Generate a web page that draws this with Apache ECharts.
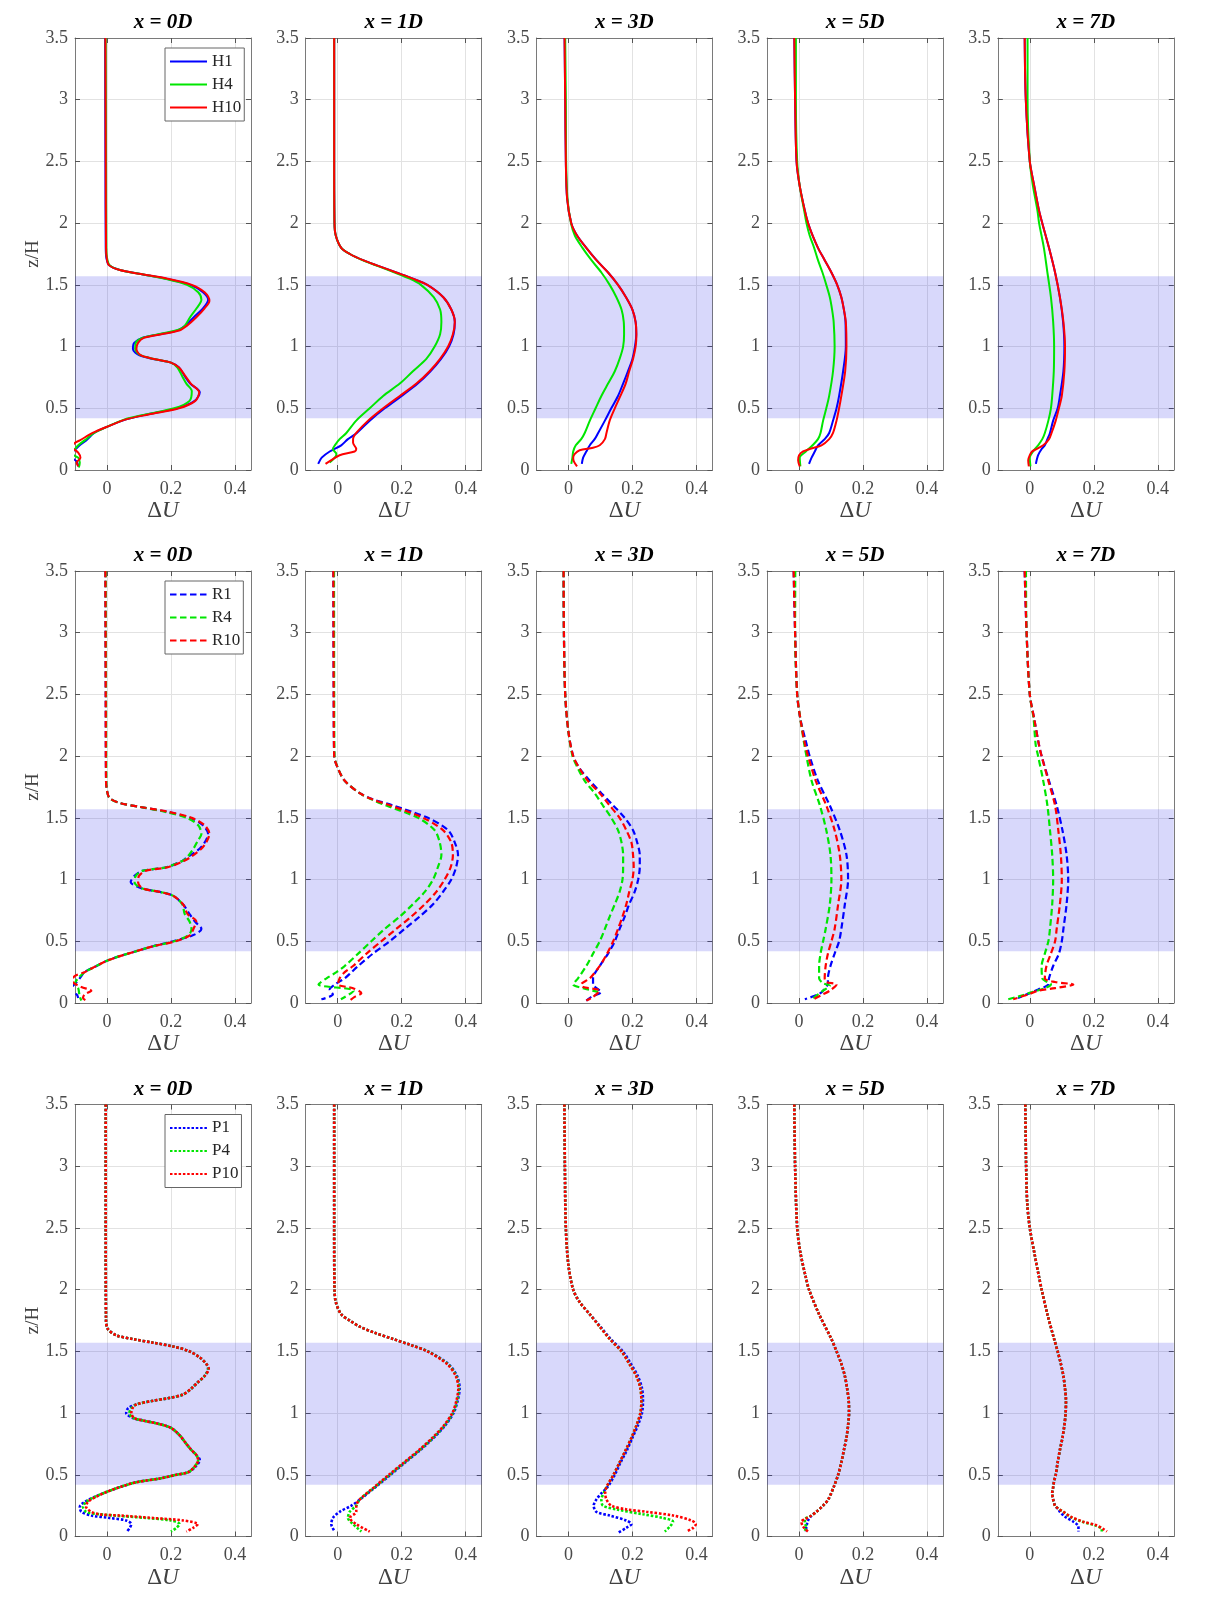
<!DOCTYPE html>
<html>
<head>
<meta charset="utf-8">
<script src="https://cdn.jsdelivr.net/npm/echarts@6/dist/echarts.min.js"></script>
<style>
html, body { margin: 0; padding: 0; background: #fff; }
#profiles { width: 1205px; height: 1603px; }
</style>
</head>
<body>
<div id="profiles"></div>
<script>
// station labels and axis ticks
const STATIONS = ['x = 0D', 'x = 1D', 'x = 3D', 'x = 5D', 'x = 7D'];
const X_TICKS = [0, 0.2, 0.4];
const Z_RANGE = [0, 3.5];
const DU_RANGE = [-0.1, 0.45];
const BAND = [0.42, 1.57];
const H_NAMES = ['H1', 'H4', 'H10'];
const R_NAMES = ['R1', 'R4', 'R10'];
const P_NAMES = ['P1', 'P4', 'P10'];

// ---- row 1 : H cases, points are [dU, z/H] from top to bottom
const H1_0D = [[-0.006,3.5],[-0.005,2.5],[-0.004,1.8],[-0.002,1.72],[0.006,1.66],[0.04,1.62],[0.1,1.59],[0.185,1.55],[0.26,1.5],[0.3,1.44],[0.316,1.38],[0.3,1.31],[0.272,1.24],[0.245,1.17],[0.22,1.13],[0.165,1.1],[0.11,1.07],[0.085,1.03],[0.081,0.98],[0.1,0.93],[0.144,0.9],[0.2,0.87],[0.225,0.83],[0.243,0.76],[0.26,0.7],[0.29,0.63],[0.274,0.56],[0.22,0.5],[0.125,0.45],[0.06,0.41],[0.0,0.35],[-0.04,0.3],[-0.065,0.24],[-0.085,0.2],[-0.1,0.165],[-0.12,0.12],[-0.095,0.07],[-0.09,0.03]];
const H4_0D = [[-0.004,3.5],[-0.003,2.5],[-0.002,1.8],[0.0,1.72],[0.008,1.66],[0.04,1.62],[0.1,1.59],[0.18,1.55],[0.25,1.5],[0.285,1.44],[0.295,1.38],[0.28,1.31],[0.26,1.24],[0.24,1.16],[0.215,1.13],[0.16,1.1],[0.11,1.07],[0.09,1.03],[0.088,0.98],[0.105,0.93],[0.147,0.9],[0.2,0.87],[0.22,0.83],[0.235,0.76],[0.248,0.7],[0.265,0.64],[0.258,0.56],[0.21,0.5],[0.12,0.45],[0.055,0.41],[0.0,0.35],[-0.04,0.3],[-0.07,0.24],[-0.09,0.2],[-0.1,0.17],[-0.115,0.14],[-0.09,0.1],[-0.085,0.06],[-0.088,0.02]];
const H10_0D = [[-0.005,3.5],[-0.004,2.5],[-0.003,1.8],[-0.001,1.72],[0.006,1.66],[0.04,1.62],[0.1,1.59],[0.19,1.55],[0.265,1.5],[0.305,1.44],[0.32,1.37],[0.305,1.31],[0.28,1.24],[0.25,1.17],[0.225,1.13],[0.17,1.1],[0.115,1.07],[0.097,1.03],[0.092,0.98],[0.105,0.93],[0.147,0.9],[0.2,0.87],[0.225,0.83],[0.245,0.76],[0.262,0.7],[0.288,0.63],[0.276,0.56],[0.225,0.5],[0.13,0.45],[0.06,0.41],[0.0,0.35],[-0.045,0.3],[-0.085,0.24],[-0.1,0.22],[-0.11,0.19],[-0.09,0.14],[-0.083,0.1],[-0.095,0.06],[-0.09,0.03]];

const H1_1D = [[-0.011,3.5],[-0.011,2.5],[-0.01,2.0],[-0.006,1.9],[0.011,1.8],[0.038,1.75],[0.079,1.7],[0.131,1.65],[0.183,1.6],[0.235,1.55],[0.28,1.5],[0.33,1.4],[0.355,1.3],[0.366,1.2],[0.362,1.1],[0.348,1.0],[0.323,0.9],[0.29,0.8],[0.25,0.7],[0.2,0.6],[0.147,0.5],[0.1,0.4],[0.06,0.3],[0.032,0.25],[0.011,0.2],[-0.025,0.15],[-0.05,0.1],[-0.061,0.05]];
const H4_1D = [[-0.011,3.5],[-0.011,2.5],[-0.01,2.0],[-0.006,1.9],[0.011,1.8],[0.038,1.75],[0.077,1.7],[0.128,1.65],[0.178,1.6],[0.225,1.55],[0.26,1.5],[0.3,1.4],[0.32,1.3],[0.324,1.2],[0.32,1.1],[0.303,1.0],[0.277,0.9],[0.235,0.8],[0.194,0.7],[0.142,0.6],[0.1,0.5],[0.058,0.4],[0.027,0.3],[0.006,0.25],[-0.009,0.2],[-0.015,0.17],[-0.004,0.13],[-0.009,0.1],[-0.025,0.06]];
const H10_1D = [[-0.011,3.5],[-0.011,2.5],[-0.01,2.0],[-0.006,1.9],[0.011,1.8],[0.038,1.75],[0.079,1.7],[0.131,1.65],[0.183,1.6],[0.235,1.55],[0.28,1.5],[0.33,1.4],[0.355,1.3],[0.366,1.2],[0.36,1.1],[0.345,1.0],[0.32,0.9],[0.287,0.8],[0.246,0.7],[0.194,0.6],[0.142,0.5],[0.095,0.4],[0.058,0.3],[0.048,0.25],[0.048,0.22],[0.058,0.17],[0.053,0.15],[0.006,0.12],[-0.02,0.08],[-0.038,0.05]];

const H1_3D = [[-0.012,3.5],[-0.01,3.0],[-0.008,2.5],[-0.004,2.2],[0.009,2.0],[0.027,1.9],[0.056,1.8],[0.088,1.7],[0.124,1.6],[0.155,1.5],[0.18,1.4],[0.2,1.3],[0.21,1.2],[0.212,1.1],[0.208,1.0],[0.2,0.9],[0.186,0.8],[0.171,0.7],[0.155,0.6],[0.134,0.5],[0.114,0.4],[0.093,0.3],[0.082,0.25],[0.067,0.2],[0.056,0.15],[0.046,0.1],[0.042,0.05]];
const H4_3D = [[-0.01,3.5],[-0.008,3.0],[-0.007,2.5],[-0.003,2.2],[0.008,2.0],[0.02,1.9],[0.044,1.8],[0.072,1.7],[0.103,1.6],[0.129,1.5],[0.15,1.4],[0.166,1.3],[0.173,1.2],[0.174,1.1],[0.171,1.0],[0.16,0.9],[0.145,0.8],[0.124,0.7],[0.103,0.6],[0.085,0.5],[0.067,0.4],[0.051,0.3],[0.04,0.25],[0.023,0.2],[0.015,0.15],[0.0125,0.1],[0.009,0.05]];
const H10_3D = [[-0.012,3.5],[-0.01,3.0],[-0.008,2.5],[-0.004,2.2],[0.009,2.0],[0.027,1.9],[0.056,1.8],[0.0875,1.7],[0.124,1.6],[0.155,1.5],[0.18,1.4],[0.2,1.3],[0.21,1.2],[0.2125,1.1],[0.21,1.0],[0.202,0.9],[0.19,0.8],[0.179,0.7],[0.1625,0.6],[0.145,0.5],[0.129,0.4],[0.119,0.3],[0.114,0.25],[0.098,0.2],[0.077,0.18],[0.035,0.16],[0.02,0.13],[0.015,0.1],[0.017,0.07],[0.027,0.03]];

const H1_5D = [[-0.015,3.5],[-0.0125,3.0],[-0.008,2.5],[0.002,2.3],[0.018,2.1],[0.028,2.0],[0.042,1.9],[0.059,1.8],[0.08,1.7],[0.101,1.6],[0.119,1.5],[0.132,1.4],[0.14,1.3],[0.145,1.2],[0.146,1.0],[0.1375,0.8],[0.125,0.6],[0.117,0.5],[0.106,0.4],[0.094,0.3],[0.08,0.25],[0.059,0.2],[0.049,0.15],[0.039,0.1],[0.031,0.05]];
const H4_5D = [[-0.01,3.5],[-0.01,3.0],[-0.006,2.5],[0.002,2.3],[0.016,2.1],[0.023,2.0],[0.033,1.9],[0.047,1.8],[0.059,1.7],[0.073,1.6],[0.085,1.5],[0.096,1.4],[0.103,1.3],[0.108,1.2],[0.111,1.0],[0.106,0.8],[0.094,0.6],[0.085,0.5],[0.075,0.4],[0.067,0.3],[0.059,0.25],[0.042,0.2],[0.021,0.15],[0.002,0.1],[0.004,0.03]];
const H10_5D = [[-0.015,3.5],[-0.0125,3.0],[-0.008,2.5],[0.002,2.3],[0.018,2.1],[0.028,2.0],[0.042,1.9],[0.059,1.8],[0.08,1.7],[0.101,1.6],[0.119,1.5],[0.132,1.4],[0.14,1.3],[0.146,1.2],[0.148,1.0],[0.144,0.8],[0.132,0.6],[0.125,0.5],[0.117,0.4],[0.106,0.3],[0.094,0.25],[0.07,0.2],[0.033,0.17],[0.0125,0.15],[0.0,0.12],[-0.003,0.08],[0.002,0.03]];

const H1_7D = [[-0.016,3.5],[-0.0125,3.0],[0.0,2.5],[0.014,2.3],[0.029,2.1],[0.039,2.0],[0.06,1.8],[0.079,1.6],[0.094,1.4],[0.104,1.2],[0.108,1.0],[0.105,0.8],[0.094,0.6],[0.087,0.5],[0.073,0.4],[0.063,0.3],[0.055,0.25],[0.047,0.2],[0.037,0.17],[0.026,0.12],[0.019,0.05]];
const H4_7D = [[-0.007,3.5],[-0.007,3.0],[0.0,2.5],[0.01,2.3],[0.024,2.1],[0.029,2.0],[0.044,1.8],[0.055,1.6],[0.066,1.4],[0.073,1.2],[0.076,1.0],[0.075,0.8],[0.07,0.6],[0.066,0.5],[0.058,0.4],[0.047,0.3],[0.039,0.25],[0.026,0.2],[0.01,0.15],[0.0,0.1],[0.002,0.03]];
const H10_7D = [[-0.016,3.5],[-0.0125,3.0],[0.0,2.5],[0.014,2.3],[0.029,2.1],[0.039,2.0],[0.06,1.8],[0.079,1.6],[0.094,1.4],[0.105,1.2],[0.11,1.0],[0.108,0.8],[0.1,0.6],[0.091,0.5],[0.081,0.4],[0.068,0.3],[0.06,0.25],[0.042,0.2],[0.021,0.17],[0.007,0.15],[0.0,0.12],[-0.005,0.08],[-0.003,0.03]];

// ---- row 2 : R cases
const R1_0D = [[-0.005,3.5],[-0.004,2.5],[-0.003,1.8],[0.0,1.72],[0.008,1.66],[0.04,1.62],[0.1,1.59],[0.185,1.55],[0.26,1.5],[0.3,1.44],[0.316,1.37],[0.305,1.3],[0.285,1.24],[0.25,1.18],[0.235,1.15],[0.185,1.1],[0.11,1.07],[0.086,1.03],[0.074,0.98],[0.107,0.93],[0.165,0.9],[0.206,0.87],[0.2375,0.8],[0.258,0.72],[0.275,0.66],[0.295,0.6],[0.27,0.55],[0.206,0.5],[0.144,0.46],[0.092,0.42],[0.04,0.38],[-0.002,0.34],[-0.033,0.3],[-0.07,0.25],[-0.085,0.2],[-0.098,0.16],[-0.12,0.1],[-0.095,0.07],[-0.09,0.04]];
const R4_0D = [[-0.004,3.5],[-0.003,2.5],[-0.002,1.8],[0.0,1.72],[0.008,1.66],[0.04,1.62],[0.1,1.59],[0.18,1.55],[0.25,1.5],[0.285,1.44],[0.295,1.37],[0.285,1.32],[0.27,1.25],[0.25,1.18],[0.235,1.15],[0.185,1.1],[0.11,1.07],[0.09,1.03],[0.086,0.98],[0.107,0.93],[0.165,0.9],[0.206,0.87],[0.235,0.8],[0.243,0.72],[0.258,0.66],[0.264,0.6],[0.255,0.55],[0.21,0.5],[0.144,0.46],[0.092,0.42],[0.04,0.38],[-0.002,0.34],[-0.033,0.3],[-0.07,0.25],[-0.09,0.2],[-0.1,0.16],[-0.09,0.12],[-0.085,0.05],[-0.08,0.02]];
const R10_0D = [[-0.005,3.5],[-0.004,2.5],[-0.003,1.8],[0.0,1.72],[0.008,1.66],[0.04,1.62],[0.1,1.59],[0.19,1.55],[0.265,1.5],[0.305,1.44],[0.32,1.37],[0.31,1.3],[0.295,1.25],[0.26,1.18],[0.24,1.15],[0.19,1.1],[0.12,1.07],[0.1,1.03],[0.097,0.98],[0.11,0.93],[0.165,0.9],[0.206,0.87],[0.2375,0.8],[0.252,0.72],[0.279,0.66],[0.27,0.6],[0.26,0.55],[0.215,0.5],[0.144,0.46],[0.092,0.42],[0.04,0.38],[-0.002,0.34],[-0.033,0.3],[-0.07,0.25],[-0.1,0.22],[-0.11,0.18],[-0.08,0.13],[-0.049,0.1],[-0.07,0.07],[-0.075,0.04],[-0.065,0.02]];

const R1_1D = [[-0.0135,3.5],[-0.0125,2.5],[-0.011,2.0],[0.001,1.9],[0.022,1.8],[0.069,1.7],[0.11,1.65],[0.173,1.6],[0.282,1.5],[0.345,1.4],[0.366,1.3],[0.376,1.2],[0.37,1.1],[0.355,1.0],[0.329,0.9],[0.298,0.8],[0.256,0.7],[0.209,0.6],[0.1625,0.5],[0.11,0.4],[0.064,0.3],[0.043,0.25],[0.022,0.2],[-0.009,0.15],[-0.025,0.11],[-0.015,0.07],[-0.051,0.03]];
const R4_1D = [[-0.0115,3.5],[-0.011,2.5],[-0.01,2.0],[0.001,1.9],[0.022,1.8],[0.069,1.7],[0.105,1.65],[0.152,1.6],[0.251,1.5],[0.303,1.4],[0.319,1.3],[0.324,1.2],[0.313,1.1],[0.298,1.0],[0.272,0.9],[0.235,0.8],[0.194,0.7],[0.147,0.6],[0.105,0.5],[0.064,0.4],[0.022,0.3],[-0.004,0.25],[-0.035,0.2],[-0.06,0.15],[0.05,0.1],[0.01,0.03]];
const R10_1D = [[-0.0135,3.5],[-0.0125,2.5],[-0.011,2.0],[0.001,1.9],[0.022,1.8],[0.069,1.7],[0.108,1.65],[0.165,1.6],[0.267,1.5],[0.329,1.4],[0.355,1.3],[0.36,1.2],[0.353,1.1],[0.334,1.0],[0.308,0.9],[0.272,0.8],[0.23,0.7],[0.183,0.6],[0.136,0.5],[0.09,0.4],[0.048,0.3],[0.022,0.25],[0.006,0.2],[0.001,0.15],[0.048,0.12],[0.074,0.08],[0.053,0.05],[0.0375,0.02]];

const R1_3D = [[-0.015,3.5],[-0.014,3.0],[-0.01,2.5],[0.0,2.2],[0.015,2.0],[0.035,1.9],[0.067,1.8],[0.103,1.7],[0.14,1.6],[0.176,1.5],[0.202,1.4],[0.215,1.3],[0.223,1.2],[0.223,1.1],[0.218,1.0],[0.207,0.9],[0.19,0.8],[0.176,0.7],[0.16,0.6],[0.145,0.5],[0.124,0.4],[0.098,0.3],[0.077,0.2],[0.077,0.15],[0.0875,0.12],[0.103,0.09],[0.072,0.05],[0.056,0.02]];
const R4_3D = [[-0.015,3.5],[-0.014,3.0],[-0.01,2.5],[0.0,2.2],[0.013,2.0],[0.03,1.9],[0.051,1.8],[0.082,1.7],[0.108,1.6],[0.134,1.5],[0.155,1.4],[0.166,1.3],[0.171,1.2],[0.171,1.1],[0.169,1.0],[0.16,0.9],[0.145,0.8],[0.129,0.7],[0.114,0.6],[0.098,0.5],[0.077,0.4],[0.056,0.3],[0.03,0.2],[0.015,0.15],[0.046,0.12],[0.093,0.09]];
const R10_3D = [[-0.015,3.5],[-0.014,3.0],[-0.01,2.5],[0.0,2.2],[0.015,2.0],[0.035,1.9],[0.061,1.8],[0.098,1.7],[0.129,1.6],[0.16,1.5],[0.181,1.4],[0.197,1.3],[0.202,1.2],[0.204,1.1],[0.2,1.0],[0.19,0.9],[0.181,0.8],[0.169,0.7],[0.155,0.6],[0.14,0.5],[0.121,0.4],[0.098,0.3],[0.067,0.2],[0.04,0.15],[0.046,0.13],[0.098,0.1],[0.077,0.05],[0.056,0.02]];

const R1_5D = [[-0.017,3.5],[-0.0125,3.0],[-0.006,2.5],[0.004,2.3],[0.023,2.1],[0.033,2.0],[0.059,1.8],[0.096,1.6],[0.127,1.4],[0.148,1.2],[0.153,1.0],[0.143,0.8],[0.132,0.6],[0.125,0.5],[0.111,0.4],[0.098,0.3],[0.09,0.2],[0.09,0.16],[0.075,0.1],[0.06,0.07],[0.018,0.03]];
const R4_5D = [[-0.012,3.5],[-0.0125,3.0],[-0.006,2.5],[0.004,2.3],[0.016,2.1],[0.023,2.0],[0.039,1.8],[0.065,1.6],[0.085,1.4],[0.098,1.2],[0.101,1.0],[0.096,0.8],[0.083,0.6],[0.075,0.5],[0.067,0.4],[0.0625,0.3],[0.0625,0.2],[0.075,0.16],[0.096,0.14],[0.075,0.1],[0.039,0.03]];
const R10_5D = [[-0.017,3.5],[-0.0125,3.0],[-0.006,2.5],[0.004,2.3],[0.018,2.1],[0.028,2.0],[0.052,1.8],[0.085,1.6],[0.111,1.4],[0.127,1.2],[0.132,1.0],[0.122,0.8],[0.111,0.6],[0.101,0.5],[0.09,0.4],[0.083,0.3],[0.08,0.2],[0.085,0.17],[0.117,0.15],[0.096,0.1],[0.075,0.07],[0.044,0.03]];

const R1_7D = [[-0.016,3.5],[-0.01,3.0],[0.0,2.5],[0.014,2.3],[0.028,2.1],[0.037,2.0],[0.06,1.8],[0.084,1.6],[0.102,1.4],[0.115,1.2],[0.12,1.0],[0.115,0.8],[0.105,0.6],[0.1,0.5],[0.091,0.4],[0.073,0.3],[0.06,0.2],[0.058,0.15],[0.026,0.11],[0.0,0.08],[-0.037,0.04]];
const R4_7D = [[-0.012,3.5],[-0.01,3.0],[0.0,2.5],[0.012,2.3],[0.018,2.1],[0.026,2.0],[0.042,1.8],[0.055,1.6],[0.063,1.4],[0.07,1.2],[0.073,1.0],[0.07,0.8],[0.063,0.6],[0.058,0.5],[0.047,0.4],[0.037,0.3],[0.039,0.2],[0.066,0.15],[0.047,0.12],[0.01,0.09],[-0.026,0.06],[-0.068,0.03]];
const R10_7D = [[-0.016,3.5],[-0.01,3.0],[0.0,2.5],[0.014,2.3],[0.028,2.1],[0.037,2.0],[0.058,1.8],[0.079,1.6],[0.089,1.4],[0.097,1.2],[0.1,1.0],[0.094,0.8],[0.084,0.6],[0.079,0.5],[0.066,0.4],[0.052,0.3],[0.047,0.2],[0.079,0.17],[0.136,0.15],[0.079,0.12],[0.026,0.1],[-0.005,0.07],[-0.052,0.03]];

// ---- row 3 : P cases
const P1_0D = [[-0.004,3.5],[-0.004,2.5],[-0.003,1.75],[0.003,1.68],[0.029,1.63],[0.08,1.6],[0.144,1.57],[0.206,1.54],[0.258,1.5],[0.29,1.45],[0.31,1.4],[0.316,1.36],[0.305,1.3],[0.284,1.25],[0.264,1.2],[0.2375,1.15],[0.19,1.12],[0.144,1.1],[0.092,1.07],[0.066,1.04],[0.06,1.0],[0.081,0.96],[0.1125,0.94],[0.165,0.91],[0.2,0.88],[0.227,0.82],[0.248,0.75],[0.264,0.7],[0.279,0.66],[0.29,0.62],[0.274,0.56],[0.253,0.52],[0.217,0.5],[0.165,0.47],[0.092,0.44],[0.04,0.4],[-0.002,0.36],[-0.039,0.32],[-0.07,0.28],[-0.085,0.24],[-0.08,0.2],[-0.049,0.17],[0.008,0.15],[0.06,0.13],[0.076,0.1],[0.071,0.07],[0.0625,0.04]];
const P4_0D = [[-0.004,3.5],[-0.004,2.5],[-0.003,1.75],[0.003,1.68],[0.029,1.63],[0.08,1.6],[0.144,1.57],[0.206,1.54],[0.258,1.5],[0.29,1.45],[0.31,1.4],[0.316,1.36],[0.305,1.3],[0.284,1.25],[0.264,1.2],[0.2375,1.15],[0.19,1.12],[0.144,1.1],[0.092,1.07],[0.076,1.04],[0.07,1.0],[0.083,0.96],[0.1125,0.94],[0.165,0.91],[0.2,0.88],[0.227,0.82],[0.248,0.75],[0.264,0.7],[0.279,0.66],[0.285,0.62],[0.272,0.56],[0.253,0.52],[0.217,0.5],[0.165,0.47],[0.092,0.44],[0.04,0.4],[-0.002,0.36],[-0.039,0.32],[-0.065,0.28],[-0.075,0.24],[-0.065,0.2],[-0.023,0.18],[0.123,0.15],[0.2,0.13],[0.227,0.1],[0.217,0.07],[0.2,0.04]];
const P10_0D = [[-0.004,3.5],[-0.004,2.5],[-0.003,1.75],[0.003,1.68],[0.029,1.63],[0.08,1.6],[0.144,1.57],[0.206,1.54],[0.258,1.5],[0.29,1.45],[0.31,1.4],[0.318,1.36],[0.305,1.3],[0.284,1.25],[0.264,1.2],[0.2375,1.15],[0.19,1.12],[0.144,1.1],[0.092,1.07],[0.08,1.04],[0.076,1.0],[0.085,0.96],[0.1125,0.94],[0.165,0.91],[0.2,0.88],[0.227,0.82],[0.248,0.75],[0.264,0.7],[0.279,0.66],[0.285,0.62],[0.272,0.56],[0.253,0.52],[0.217,0.5],[0.165,0.47],[0.092,0.44],[0.04,0.4],[-0.002,0.36],[-0.035,0.32],[-0.06,0.28],[-0.065,0.24],[-0.049,0.2],[-0.023,0.18],[0.04,0.17],[0.144,0.15],[0.2375,0.13],[0.284,0.1],[0.269,0.07],[0.248,0.04]];

const P1_1D = [[-0.011,3.5],[-0.011,2.5],[-0.01,2.0],[-0.006,1.9],[0.011,1.8],[0.0375,1.75],[0.069,1.7],[0.116,1.65],[0.173,1.6],[0.23,1.55],[0.282,1.5],[0.345,1.4],[0.373,1.3],[0.381,1.2],[0.375,1.1],[0.362,1.0],[0.336,0.9],[0.3,0.8],[0.258,0.7],[0.211,0.6],[0.165,0.5],[0.118,0.4],[0.07,0.3],[0.043,0.25],[0.006,0.2],[-0.015,0.15],[-0.02,0.1],[-0.009,0.04]];
const P4_1D = [[-0.011,3.5],[-0.011,2.5],[-0.01,2.0],[-0.006,1.9],[0.011,1.8],[0.0375,1.75],[0.069,1.7],[0.116,1.65],[0.173,1.6],[0.23,1.55],[0.282,1.5],[0.343,1.4],[0.371,1.3],[0.379,1.2],[0.373,1.1],[0.36,1.0],[0.334,0.9],[0.298,0.8],[0.256,0.7],[0.209,0.6],[0.1625,0.5],[0.116,0.4],[0.069,0.3],[0.058,0.25],[0.0375,0.2],[0.032,0.15],[0.048,0.1],[0.074,0.04]];
const P10_1D = [[-0.011,3.5],[-0.011,2.5],[-0.01,2.0],[-0.006,1.9],[0.011,1.8],[0.0375,1.75],[0.069,1.7],[0.116,1.65],[0.173,1.6],[0.23,1.55],[0.28,1.5],[0.341,1.4],[0.369,1.3],[0.377,1.2],[0.371,1.1],[0.358,1.0],[0.332,0.9],[0.296,0.8],[0.254,0.7],[0.207,0.6],[0.16,0.5],[0.114,0.4],[0.069,0.3],[0.058,0.25],[0.058,0.2],[0.0375,0.15],[0.058,0.1],[0.1,0.04]];

const P1_3D = [[-0.0125,3.5],[-0.011,3.0],[-0.008,2.5],[0.0,2.2],[0.015,2.0],[0.035,1.9],[0.067,1.8],[0.1,1.7],[0.132,1.6],[0.17,1.5],[0.195,1.4],[0.217,1.3],[0.23,1.2],[0.233,1.1],[0.23,1.0],[0.217,0.9],[0.2,0.8],[0.183,0.7],[0.163,0.6],[0.145,0.5],[0.122,0.4],[0.103,0.35],[0.0875,0.3],[0.079,0.25],[0.0875,0.2],[0.129,0.17],[0.181,0.13],[0.197,0.1],[0.181,0.07],[0.155,0.03]];
const P4_3D = [[-0.0125,3.5],[-0.011,3.0],[-0.008,2.5],[0.0,2.2],[0.015,2.0],[0.035,1.9],[0.067,1.8],[0.098,1.7],[0.129,1.6],[0.166,1.5],[0.19,1.4],[0.2125,1.3],[0.225,1.2],[0.228,1.1],[0.225,1.0],[0.2125,0.9],[0.197,0.8],[0.179,0.7],[0.16,0.6],[0.141,0.5],[0.119,0.4],[0.11,0.35],[0.103,0.3],[0.108,0.25],[0.15,0.22],[0.233,0.18],[0.296,0.15],[0.327,0.12],[0.317,0.08],[0.301,0.04]];
const P10_3D = [[-0.0125,3.5],[-0.011,3.0],[-0.008,2.5],[0.0,2.2],[0.015,2.0],[0.035,1.9],[0.067,1.8],[0.098,1.7],[0.129,1.6],[0.166,1.5],[0.19,1.4],[0.2125,1.3],[0.225,1.2],[0.228,1.1],[0.225,1.0],[0.2125,0.9],[0.197,0.8],[0.179,0.7],[0.16,0.6],[0.141,0.5],[0.119,0.4],[0.115,0.35],[0.119,0.3],[0.134,0.25],[0.181,0.22],[0.244,0.2],[0.327,0.17],[0.384,0.13],[0.398,0.1],[0.39,0.07],[0.369,0.04]];

const P1_5D = [[-0.015,3.5],[-0.0125,3.0],[-0.006,2.5],[0.004,2.3],[0.021,2.1],[0.031,2.0],[0.0625,1.8],[0.101,1.6],[0.117,1.5],[0.132,1.4],[0.143,1.3],[0.15,1.2],[0.155,1.1],[0.156,1.0],[0.153,0.9],[0.148,0.8],[0.14,0.7],[0.132,0.6],[0.122,0.5],[0.108,0.4],[0.091,0.3],[0.075,0.25],[0.054,0.2],[0.039,0.17],[0.028,0.13],[0.023,0.08],[0.021,0.04]];
const P4_5D = [[-0.015,3.5],[-0.0125,3.0],[-0.006,2.5],[0.004,2.3],[0.021,2.1],[0.031,2.0],[0.0625,1.8],[0.101,1.6],[0.117,1.5],[0.132,1.4],[0.143,1.3],[0.15,1.2],[0.155,1.1],[0.156,1.0],[0.153,0.9],[0.148,0.8],[0.14,0.7],[0.132,0.6],[0.122,0.5],[0.108,0.4],[0.091,0.3],[0.075,0.25],[0.054,0.2],[0.039,0.17],[0.018,0.14],[0.018,0.12],[0.021,0.08],[0.018,0.04]];
const P10_5D = [[-0.015,3.5],[-0.0125,3.0],[-0.006,2.5],[0.004,2.3],[0.021,2.1],[0.031,2.0],[0.0625,1.8],[0.101,1.6],[0.117,1.5],[0.132,1.4],[0.143,1.3],[0.15,1.2],[0.155,1.1],[0.156,1.0],[0.153,0.9],[0.148,0.8],[0.14,0.7],[0.132,0.6],[0.122,0.5],[0.108,0.4],[0.091,0.3],[0.075,0.25],[0.054,0.2],[0.039,0.17],[0.018,0.14],[0.007,0.12],[0.0125,0.08],[0.028,0.04]];

const P1_7D = [[-0.014,3.5],[-0.0115,3.0],[-0.008,2.7],[0.0,2.5],[0.014,2.3],[0.029,2.1],[0.037,2.0],[0.055,1.8],[0.076,1.6],[0.087,1.5],[0.097,1.4],[0.105,1.3],[0.11,1.2],[0.113,1.1],[0.112,1.0],[0.108,0.9],[0.102,0.8],[0.094,0.7],[0.087,0.6],[0.081,0.5],[0.076,0.45],[0.073,0.4],[0.07,0.35],[0.073,0.3],[0.079,0.25],[0.089,0.22],[0.094,0.2],[0.11,0.16],[0.136,0.12],[0.152,0.08],[0.152,0.04]];
const P4_7D = [[-0.014,3.5],[-0.0115,3.0],[-0.008,2.7],[0.0,2.5],[0.014,2.3],[0.029,2.1],[0.037,2.0],[0.055,1.8],[0.076,1.6],[0.087,1.5],[0.097,1.4],[0.105,1.3],[0.11,1.2],[0.113,1.1],[0.112,1.0],[0.108,0.9],[0.102,0.8],[0.094,0.7],[0.087,0.6],[0.081,0.5],[0.076,0.45],[0.073,0.4],[0.07,0.35],[0.073,0.3],[0.079,0.25],[0.092,0.22],[0.105,0.2],[0.126,0.16],[0.162,0.12],[0.204,0.09],[0.225,0.06],[0.225,0.04]];
const P10_7D = [[-0.014,3.5],[-0.0115,3.0],[-0.008,2.7],[0.0,2.5],[0.014,2.3],[0.029,2.1],[0.037,2.0],[0.055,1.8],[0.076,1.6],[0.087,1.5],[0.097,1.4],[0.105,1.3],[0.11,1.2],[0.113,1.1],[0.112,1.0],[0.108,0.9],[0.102,0.8],[0.094,0.7],[0.087,0.6],[0.081,0.5],[0.076,0.45],[0.073,0.4],[0.07,0.35],[0.073,0.3],[0.079,0.25],[0.092,0.22],[0.105,0.2],[0.128,0.16],[0.167,0.12],[0.209,0.09],[0.23,0.06],[0.241,0.04]];

const ROW_H = [[H1_0D,H4_0D,H10_0D],[H1_1D,H4_1D,H10_1D],[H1_3D,H4_3D,H10_3D],[H1_5D,H4_5D,H10_5D],[H1_7D,H4_7D,H10_7D]];
const ROW_R = [[R1_0D,R4_0D,R10_0D],[R1_1D,R4_1D,R10_1D],[R1_3D,R4_3D,R10_3D],[R1_5D,R4_5D,R10_5D],[R1_7D,R4_7D,R10_7D]];
const ROW_P = [[P1_0D,P4_0D,P10_0D],[P1_1D,P4_1D,P10_1D],[P1_3D,P4_3D,P10_3D],[P1_5D,P4_5D,P10_5D],[P1_7D,P4_7D,P10_7D]];

// layout
const FONT = '"Liberation Serif", "Times New Roman", serif';
const LINE_COLORS = ['#0000ff', '#00e600', '#ff0000'];
const ROW_TOP = [38, 571, 1104.5];
const COL_LEFT = 75, COL_STEP = 230.7, PW = 176, PH = 432;
const AXIS_COLOR = '#7a7a7a';
const LABEL_COLOR = '#4a4a4a';

const rows = [
  { names: H_NAMES, panels: ROW_H, dash: 'solid', width: 2 },
  { names: R_NAMES, panels: ROW_R, dash: [6.5, 3.5], width: 2.2 },
  { names: P_NAMES, panels: ROW_P, dash: [2.5, 1.8], width: 2.6 }
];

let grids = [], xAxes = [], yAxes = [], series = [], legends = [], texts = []

rows.forEach((row, r) => {
  STATIONS.forEach((station, c) => {
    const gi = r * 5 + c
    const left = COL_LEFT + c * COL_STEP
    const top = ROW_TOP[r]
    grids.push({ left: left, top: top, width: PW, height: PH, containLabel: false })

    const xBase = {
      gridIndex: gi, type: 'value', min: DU_RANGE[0], max: DU_RANGE[1],
      axisLine: { show: true, onZero: false, lineStyle: { color: AXIS_COLOR, width: 1 } },
      axisTick: { show: true, inside: true, length: 5, customValues: X_TICKS, lineStyle: { color: '#555' } }
    }
    xAxes.push(Object.assign({}, xBase, {
      position: 'bottom',
      axisLabel: { customValues: X_TICKS, margin: 10, fontFamily: FONT, fontSize: 18, color: LABEL_COLOR },
      splitLine: { show: true, lineStyle: { color: '#e2e2e2', width: 1 } }
    }))
    xAxes.push(Object.assign({}, xBase, {
      position: 'top', axisLabel: { show: false }, splitLine: { show: false }
    }))

    const yBase = {
      gridIndex: gi, type: 'value', min: Z_RANGE[0], max: Z_RANGE[1], interval: 0.5,
      axisLine: { show: true, onZero: false, lineStyle: { color: AXIS_COLOR, width: 1 } },
      axisTick: { show: true, inside: true, length: 5, lineStyle: { color: '#555' } }
    }
    yAxes.push(Object.assign({}, yBase, {
      position: 'left',
      axisLabel: { margin: 7, fontFamily: FONT, fontSize: 18, color: LABEL_COLOR },
      splitLine: { show: true, lineStyle: { color: '#e2e2e2', width: 1 } }
    }))
    yAxes.push(Object.assign({}, yBase, {
      position: 'right', axisLabel: { show: false }, splitLine: { show: false }
    }))

    // shaded canopy band
    series.push({
      type: 'line', xAxisIndex: 2 * gi, yAxisIndex: 2 * gi, data: [], silent: true,
      markArea: {
        silent: true,
        itemStyle: { color: 'rgba(40,40,235,0.18)' },
        data: [[{ yAxis: BAND[0] }, { yAxis: BAND[1] }]]
      }
    })

    row.panels[c].forEach((curve, k) => {
      series.push({
        name: row.names[k], type: 'line', xAxisIndex: 2 * gi, yAxisIndex: 2 * gi,
        data: curve, symbol: 'none', smooth: 0.3, silent: true, z: 3,
        lineStyle: { color: LINE_COLORS[k], width: row.width, type: row.dash, cap: 'butt' },
        itemStyle: { color: LINE_COLORS[k] }
      })
    })

    texts.push({
      type: 'text', x: left + PW / 2, y: top - 15,
      style: { text: station, font: 'italic bold 21px ' + FONT, fill: '#000', align: 'center', verticalAlign: 'middle' }
    })
    texts.push({
      type: 'text', x: left + PW / 2, y: top + PH + 41,
      style: {
        text: '{d|Δ}{u|U}', align: 'center', verticalAlign: 'middle',
        rich: {
          d: { fontFamily: FONT, fontSize: 23, fill: '#404040' },
          u: { fontFamily: FONT, fontSize: 23, fontStyle: 'italic', fill: '#404040' }
        }
      }
    })
    if (c === 0) {
      texts.push({
        type: 'text', x: 33, y: top + PH / 2, rotation: Math.PI / 2,
        style: { text: 'z/H', font: '19px ' + FONT, fill: '#404040', align: 'center', verticalAlign: 'middle' }
      })
    }
  })

  legends.push({
    data: row.names, orient: 'vertical', left: 165, top: ROW_TOP[r] + 10,
    itemWidth: 37, itemHeight: 14, itemGap: 6, padding: [5, 3, 5, 4],
    borderColor: '#666', borderWidth: 1, borderRadius: 0, backgroundColor: '#fff',
    itemStyle: { opacity: 0 },
    textStyle: { fontFamily: FONT, fontSize: 17, lineHeight: 14, color: '#262626' },
    selectedMode: false
  })
})

let chart = echarts.init(document.getElementById('profiles'))
chart.setOption({
  backgroundColor: '#fff',
  animation: false,
  grid: grids,
  xAxis: xAxes,
  yAxis: yAxes,
  legend: legends,
  graphic: texts,
  series: series
})
</script>
</body>
</html>
